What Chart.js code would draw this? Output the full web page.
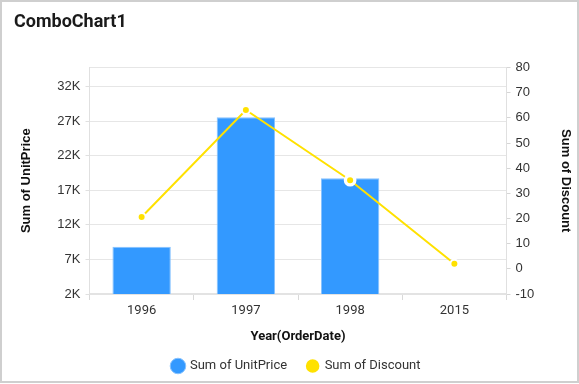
<!DOCTYPE html>
<html>
<head>
<meta charset="utf-8">
<script src="https://cdn.jsdelivr.net/npm/chart.js@4.4.1/dist/chart.umd.min.js"></script>
<style>
  html, body { margin: 0; padding: 0; background: #fff; }
  #wrap { width: 579px; height: 383px; box-sizing: border-box; border: 2px solid #cfcfcf; background: #fff; position: relative; }
  #c { display: block; }
</style>
</head>
<body>
<div id="wrap"><canvas id="c" width="575" height="379"></canvas></div>
<script>
const chartTitle = 'ComboChart1';
const categories = ['1996', '1997', '1998', '2015'];
const unitPriceSeries = [8840, 27570, 18740, null];
const discountSeries = [20.6, 63.1, 35.2, 2.0];
const leftTicks = [2000, 7000, 12000, 17000, 22000, 27000, 32000];
const rightTicks = [-10, 0, 10, 20, 30, 40, 50, 60, 70, 80];
const seriesNames = ['Sum of UnitPrice', 'Sum of Discount'];
const axisTitles = { x: 'Year(OrderDate)', y: 'Sum of UnitPrice', y1: 'Sum of Discount' };

const CA_LEFT = 87.5, CA_RIGHT = 504.5, CA_BOTTOM = 292, PAD_L = 12;
const PAD_B = -1.5, LEGEND_H = 43;
const LEGEND_SHIFT_X = 1;

const legendShift = {
  id: 'legendShift',
  afterLayout(chart) {
    const L = chart.legend;
    if (!L) return;
    L.left += LEGEND_SHIFT_X;
    L.right += LEGEND_SHIFT_X;
  }
};

new Chart(document.getElementById('c'), {
  data: {
    labels: categories,
    datasets: [
      {
        type: 'bar',
        label: seriesNames[0],
        data: unitPriceSeries,
        yAxisID: 'y',
        backgroundColor: '#3399ff',
        borderColor: '#86c2ff',
        borderWidth: 1,
        barPercentage: 0.56,
        categoryPercentage: 1,
        order: 2
      },
      {
        type: 'line',
        label: seriesNames[1],
        data: discountSeries,
        yAxisID: 'y1',
        borderColor: '#ffe100',
        backgroundColor: '#ffe100',
        borderWidth: 2,
        pointStyle: 'circle',
        pointBackgroundColor: '#ffe100',
        pointBorderColor: '#ffffff',
        pointRadius: (ctx) => ctx.dataIndex === 2 ? 4.7 : 4,
        pointBorderWidth: (ctx) => ctx.dataIndex === 2 ? 3.3 : 2,
        tension: 0,
        fill: false,
        order: 1
      }
    ]
  },
  options: {
    responsive: false,
    animation: false,
    events: [],
    layout: { padding: { left: PAD_L, right: 0, top: 0, bottom: PAD_B } },
    plugins: {
      title: {
        display: true,
        text: chartTitle,
        align: 'start',
        color: '#1a1a1a',
        font: { family: 'Roboto', size: 18, weight: 'bold' },
        padding: { top: 10, bottom: 33.9 }
      },
      legend: {
        display: true,
        position: 'bottom',
        labels: {
          usePointStyle: true,
          pointStyle: 'circle',
          boxWidth: 11,
          boxHeight: 11,
          padding: 20,
          color: '#333',
          font: { family: 'Roboto', size: 13 },
          sort: (a, b) => a.datasetIndex - b.datasetIndex
        }
      },
      tooltip: { enabled: false }
    },
    scales: {
      x: {
        type: 'category',
        offset: true,
        grid: { display: true, drawOnChartArea: false, drawTicks: true, tickLength: 6, color: '#d9d9d9' },
        border: { display: true, color: '#e3e3e3', width: 2 },
        ticks: { color: '#333', padding: 3, font: { family: 'Roboto', size: 13 } },
        title: { display: true, text: axisTitles.x, color: '#111', font: { family: 'Roboto', size: 13, weight: 'bold' }, padding: { top: 0, bottom: -5 } },
        afterFit(scale) { scale.height = 379 - PAD_B - LEGEND_H - CA_BOTTOM; }
      },
      y: {
        type: 'linear',
        position: 'left',
        min: 2000,
        max: 34780,
        afterBuildTicks(scale) { scale.ticks = leftTicks.map(v => ({ value: v })); },
        grid: { color: '#e6e6e6', tickLength: 4, tickColor: '#e0e0e0' },
        border: { display: true, color: '#e0e0e0', width: 1 },
        ticks: {
          color: '#333', padding: 5,
          font: { family: 'Liberation Sans', size: 13 },
          callback: (v) => (v / 1000) + 'K'
        },
        title: { display: true, text: axisTitles.y, color: '#111', font: { family: 'Liberation Sans', size: 13, weight: 'bold' }, padding: { top: 5, bottom: 0 } },
        afterFit(scale) { scale.width = CA_LEFT - PAD_L; }
      },
      y1: {
        type: 'linear',
        position: 'right',
        min: -10,
        max: 80,
        afterBuildTicks(scale) { scale.ticks = rightTicks.map(v => ({ value: v })); },
        grid: {
          drawOnChartArea: true,
          color: (ctx) => (ctx.tick && ctx.tick.value === 80) ? '#e6e6e6' : 'rgba(0,0,0,0)',
          tickColor: '#d6d6d6',
          tickLength: 4
        },
        border: { display: true, color: '#e0e0e0', width: 1 },
        ticks: { color: '#333', padding: 5, font: { family: 'Liberation Sans', size: 13 } },
        title: { display: true, text: axisTitles.y1, color: '#111', font: { family: 'Liberation Sans', size: 13, weight: 'bold' }, padding: { top: 4, bottom: 0 } },
        afterFit(scale) { scale.width = 575 - CA_RIGHT; }
      }
    }
  },
  plugins: [legendShift]
});
</script>
</body>
</html>
